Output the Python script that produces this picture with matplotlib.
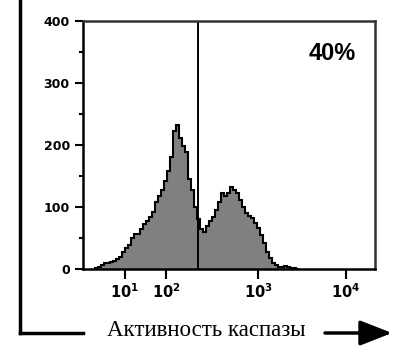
import numpy as np
import matplotlib
matplotlib.use("Agg")
import matplotlib.pyplot as plt
from matplotlib.lines import Line2D

# histogram counts (bins of 3 channels starting at channel 12)
counts = [1, 3, 7, 9, 10, 12, 13, 16, 20, 27, 34, 38, 50, 56, 57, 64, 72, 78, 84, 92,
          108, 118, 128, 142, 158, 180, 222, 232, 212, 198, 188, 145, 128, 100, 80, 64,
          60, 70, 78, 84, 95, 108, 122, 118, 123, 132, 128, 122, 112, 100, 90, 86, 82,
          75, 66, 55, 42, 28, 18, 10, 6, 4, 3, 5, 4, 2, 1, 0]
bin_start = 12
bin_width = 3
gate_channel = 115
x_tick_channels = [42, 83, 175, 263]
x_tick_labels = ['$\\mathbf{10^{1}}$', '$\\mathbf{10^{2}}$', '$\\mathbf{10^{3}}$', '$\\mathbf{10^{4}}$']
y_ticks = [0, 100, 200, 300, 400]
y_minor = [50, 150, 250, 350]
percent_label = "40%"
axis_title = "Активность каспазы"

W, H = 414, 348
fig = plt.figure(figsize=(W / 100, H / 100), dpi=100)
ax = fig.add_axes([83 / W, 79 / H, 292 / W, 248 / H])

edges = bin_start + bin_width * np.arange(len(counts) + 1)
ax.stairs(counts, edges, fill=True, facecolor='#808080', edgecolor='none')
ax.stairs(counts, edges, fill=False, color='black', linewidth=1.5)
ax.axvline(gate_channel, color='black', linewidth=1.4)

ax.set_xlim(0, 292)
ax.set_ylim(0, 400)
ax.set_xticks(x_tick_channels)
ax.set_xticklabels(x_tick_labels)
ax.set_yticks(y_ticks)
ax.set_yticks(y_minor, minor=True)
ax.set_yticklabels([str(v) for v in y_ticks], fontweight='bold', fontsize=9)
ax.tick_params(axis='y', which='major', direction='out', length=5.5, width=1.5, pad=4)
ax.tick_params(axis='y', which='minor', direction='out', length=3, width=1.5)
ax.tick_params(axis='x', which='major', direction='out', length=7.5, width=1.5, pad=2, labelsize=10.5)
for lbl in ax.get_xticklabels():
    lbl.set_fontweight('bold')

for s in ['left', 'bottom']:
    ax.spines[s].set_linewidth(1.8)
    ax.spines[s].set_color('black')
for s in ['top', 'right']:
    ax.spines[s].set_linewidth(1.8)
    ax.spines[s].set_color('#333333')

ax.text(332 - 83, 400 * (269 - 53) / 248, percent_label, ha='center', va='center',
        fontsize=17, fontweight='bold', family='Liberation Sans')

# outer frame lines and caption
fig.add_artist(Line2D([20 / W, 20 / W], [1.0, 1 - 333 / H], transform=fig.transFigure,
                      color='black', linewidth=2.5, solid_capstyle='projecting'))
fig.add_artist(Line2D([20 / W, 83 / W], [1 - 333 / H, 1 - 333 / H], transform=fig.transFigure,
                      color='black', linewidth=2.5, solid_capstyle='projecting'))
fig.text(206 / W, 1 - 331 / H, axis_title, ha='center', va='center',
         fontsize=16.5, family='Liberation Serif')
fig.add_artist(matplotlib.patches.FancyArrowPatch(
    (325 / W, 1 - 333 / H), (392 / W, 1 - 333 / H), transform=fig.transFigure,
    arrowstyle='-|>,head_length=1.4,head_width=0.55', mutation_scale=14,
    color='black', linewidth=2.5, shrinkA=0, shrinkB=0))

fig.savefig('out.png', dpi=100)
